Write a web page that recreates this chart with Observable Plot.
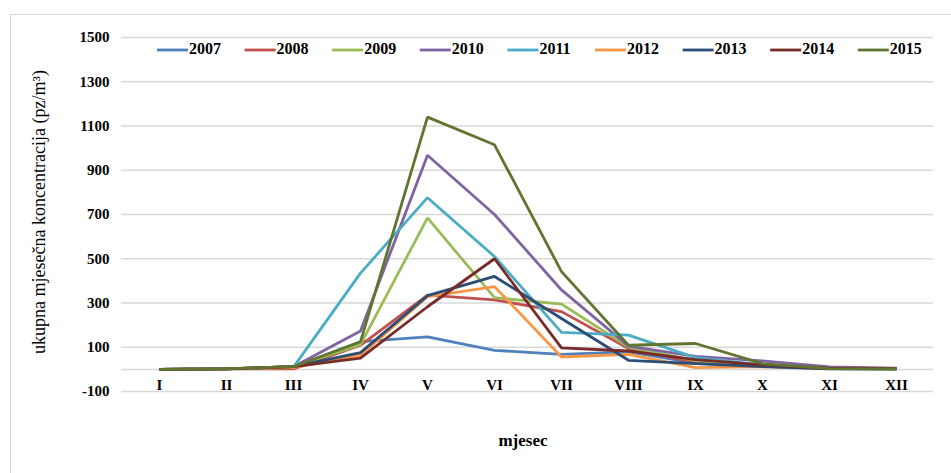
<!DOCTYPE html>
<html>
<head>
<meta charset="utf-8">
<script src="https://cdn.jsdelivr.net/npm/d3@7"></script>
<script src="https://cdn.jsdelivr.net/npm/@observablehq/plot@0.6"></script>
<style>
  html, body { margin: 0; padding: 0; background: #fff; }
  #wrap { position: relative; width: 951px; height: 473px; overflow: hidden; }
  #frame { position: absolute; left: 10px; top: 14px; right: 0; bottom: 0;
           border-top: 1.5px solid #d9d9d9; border-left: 1.5px solid #d9d9d9; }
  #chart { position: absolute; left: 0; top: 0; }
</style>
</head>
<body>
<div id="wrap"><div id="frame"></div><div id="chart"></div></div>
<script>
const months = ["I","II","III","IV","V","VI","VII","VIII","IX","X","XI","XII"];
const years = ["2007","2008","2009","2010","2011","2012","2013","2014","2015"];
const colors = ["#4F81BD","#C0504D","#9BBB59","#8064A2","#4BACC6","#F79646","#2C4D75","#772C2A","#5F7530"];
const yTicks = [1500,1300,1100,900,700,500,300,100,-100];

const v2007 = [0, 3, 10, 125, 147, 86, 68, 79, 28, 14, 3, 2];
const v2008 = [0, 2, 2, 109, 336, 314, 261, 94, 30, 15, 5, 2];
const v2009 = [0, 2, 12, 112, 685, 324, 295, 101, 40, 15, 3, 2];
const v2010 = [0, 2, 12, 173, 968, 700, 359, 105, 59, 38, 11, 5];
const v2011 = [0, 2, 10, 435, 776, 510, 167, 155, 53, 20, 3, 2];
const v2012 = [0, 2, 8, 64, 329, 374, 56, 68, 8, 12, 3, 2];
const v2013 = [0, 2, 12, 76, 333, 420, 230, 41, 26, 12, 2, 2];
const v2014 = [0, 2, 12, 51, 283, 500, 97, 83, 44, 20, 5, 3];
const v2015 = [0, 3, 12, 125, 1140, 1015, 442, 109, 117, 26, 3, 2];

const series = [v2007, v2008, v2009, v2010, v2011, v2012, v2013, v2014, v2015];
const data = [];
years.forEach((yr, i) => months.forEach((m, j) => data.push({year: yr, month: m, value: series[i][j]})));

const serif = "'Liberation Serif', 'Times New Roman', serif";

const plot = Plot.plot({
  width: 951,
  height: 473,
  marginLeft: 121,
  marginRight: 18,
  marginTop: 37,
  marginBottom: 82,
  style: { fontFamily: serif, background: "transparent", overflow: "visible" },
  x: { type: "point", domain: months, padding: 0.5 },
  y: { domain: [-100, 1500] },
  color: { domain: years, range: colors },
  marks: [
    Plot.ruleY(yTicks, { stroke: "#d9d9d9", strokeWidth: 1.5, strokeOpacity: 1 }),
    Plot.ruleY([0], { stroke: "#d9d9d9", strokeWidth: 1.5, strokeOpacity: 1 }),
    Plot.axisY(yTicks, { tickSize: 0, tickPadding: 12, fontSize: 15, fontWeight: "bold", label: null, tickFormat: d => String(d) }),
    Plot.axisX({ tickSize: 0, dy: -21, fontSize: 15, fontWeight: "bold", label: null }),
    Plot.line(data, { x: "month", y: "value", z: "year", stroke: "year", strokeWidth: 2.8, strokeLinejoin: "miter", strokeLinecap: "butt" })
  ]
});
plot.style.color = "#000";
document.getElementById("chart").appendChild(plot);

const svg = d3.select(plot);
// y-axis title
svg.append("text")
  .attr("transform", "translate(41,212) rotate(-90)")
  .attr("text-anchor", "middle")
  .attr("dominant-baseline", "middle")
  .style("font-family", serif)
  .style("font-size", "18px")
  .text("ukupna mjesečna koncentracija (pz/m³)");
// x-axis title
svg.append("text")
  .attr("x", 523).attr("y", 442)
  .attr("text-anchor", "middle")
  .attr("dominant-baseline", "middle")
  .style("font-family", serif)
  .style("font-size", "17px")
  .style("font-weight", "bold")
  .text("mjesec");
// legend
const lg = svg.append("g");
years.forEach((yr, i) => {
  const x0 = 157 + i * 87.6;
  lg.append("line").attr("x1", x0).attr("x2", x0 + 31).attr("y1", 50).attr("y2", 50)
    .attr("stroke", colors[i]).attr("stroke-width", 2.8);
  lg.append("text").attr("x", x0 + 32).attr("y", 50)
    .attr("text-anchor", "start")
    .attr("dominant-baseline", "middle")
    .style("font-family", serif).style("font-size", "16px").style("font-weight", "bold")
    .text(yr);
});
</script>
</body>
</html>
